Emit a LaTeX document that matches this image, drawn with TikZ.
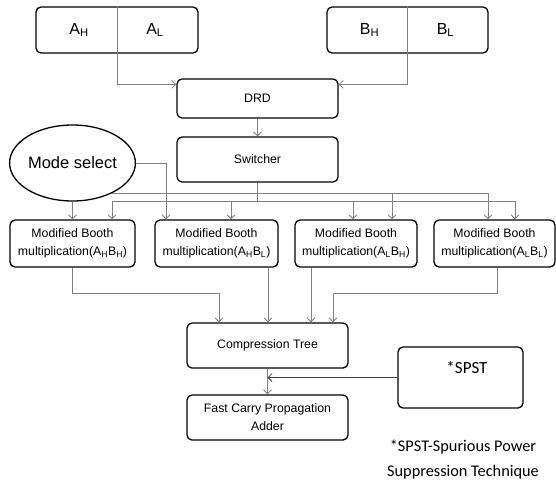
\documentclass[tikz,border=0pt]{standalone}
\usepackage{fontspec}
\setmainfont{Liberation Sans}
\newfontfamily\notefont{Carlito}
\usetikzlibrary{shapes.geometric,calc,arrows.meta}
\definecolor{wire}{RGB}{128,128,128}

\begin{document}
\begin{tikzpicture}[x=1pt,y=-1pt,
  blk/.style={draw,line width=1.3pt,rounded corners=5pt,align=center,inner sep=0pt,
    font=\fontsize{12.3}{18}\selectfont},
  conn/.style={draw=wire,line width=0.8pt},
  >={Straight Barb[length=4pt,width=8pt]}]
\useasboundingbox (0,0) rectangle (556,485);
% operand registers
\node[blk,minimum width=162pt,minimum height=46pt] (a) at (117,30) {};
\node[blk,minimum width=161pt,minimum height=46pt] (b) at (407.5,30) {};
\draw[conn] (a.north) -- (a.south);
\draw[conn] (b.north) -- (b.south);
\node[font=\fontsize{16}{16}\selectfont] (ah) at ([xshift=-38pt]a.center) {A\textsubscript{H}};
\node[font=\fontsize{16}{16}\selectfont] (al) at ([xshift=38pt]a.center) {A\textsubscript{L}};
\node[font=\fontsize{16}{16}\selectfont] (bh) at ([xshift=-38pt]b.center) {B\textsubscript{H}};
\node[font=\fontsize{16}{16}\selectfont] (bl) at ([xshift=38pt]b.center) {B\textsubscript{L}};
% control path
\node[blk,minimum width=161pt,minimum height=39pt] (drd) at (257.5,98.5) {DRD};
\node[blk,minimum width=161pt,minimum height=45pt] (sw) at (257.5,159.5) {Switcher};
\node[draw,ellipse,line width=1.3pt,inner sep=0pt,minimum width=103pt,minimum height=76pt,
  font=\fontsize{16.5}{16.5}\selectfont] (mode) at (72.5,163) {Mode select};
% partial products
\node[blk,minimum width=125pt,minimum height=47pt] (b1) at (72.5,243.5) {Modified Booth\\multiplication(A\textsubscript{H}B\textsubscript{H})};
\node[blk,minimum width=123pt,minimum height=47pt] (b2) at (216.5,243.5) {Modified Booth\\multiplication(A\textsubscript{H}B\textsubscript{L})};
\node[blk,minimum width=122pt,minimum height=47pt] (b3) at (356,243.5) {Modified Booth\\multiplication(A\textsubscript{L}B\textsubscript{H})};
\node[blk,minimum width=121pt,minimum height=47pt] (b4) at (494.5,243.5) {Modified Booth\\multiplication(A\textsubscript{L}B\textsubscript{L})};
% accumulation
\node[blk,minimum width=161pt,minimum height=45pt] (comp) at (267.5,345.5) {Compression Tree};
\node[blk,minimum width=161pt,minimum height=45pt] (fcpa) at (267.5,417.5) {Fast Carry Propagation\\Adder};
\node[blk,minimum width=125pt,minimum height=61pt] (spst) at (460.5,377.5) {};
\node[font=\notefont\fontsize{17}{17}\selectfont] (spstlbl) at (467,368) {*SPST};
\node[font=\notefont\fontsize{16.3}{25}\selectfont,align=center] (note) at (463,459.5) {*SPST-Spurious Power\\Suppression Technique};

\draw[conn,->] (a.south) |- ([yshift=-6pt]drd.north west);
\draw[conn,->] (b.south) |- ([yshift=-6pt]drd.north east);
\draw[conn,->] (drd) -- (sw);
\coordinate (sbus) at ($(sw.south)+(0,19)$);
\draw[conn] (sw.south) -- (sbus);
\foreach \n/\dx in {b1/39.5,b2/14.5,b3/-3,b4/20.5}
  \draw[conn,->] (sbus) -| ([xshift=\dx pt]\n.north);
\draw[conn,->] (mode.south) -- (b1.north);
\draw[conn,->] (mode.east) -| ([xshift=-50.5pt]b2.north);
\foreach \n/\dx in {b3/36,b4/-6.5}
  \draw[conn,->] (mode.-37) -| ([xshift=\dx pt]\n.north);
% into the tree
\coordinate (t2) at ([xshift=51.5pt]b2.south);
\coordinate (t3) at ([xshift=-45pt]b3.south);
\draw[conn,->] (b1.south) -- ++(0,26) -| ([xshift=-48.5pt]comp.north);
\draw[conn,->] (t2) -- (t2 |- comp.north);
\draw[conn,->] (t3) -- (t3 |- comp.north);
\draw[conn,->] ([xshift=2.5pt]b4.south) -- ++(0,26) -| ([xshift=65.5pt]comp.north);
\draw[conn,->] (comp) -- (fcpa);
\draw[->,line width=0.8pt,black!75] (spst.west) -- (spst.west -| comp.south);
\end{tikzpicture}
\end{document}
